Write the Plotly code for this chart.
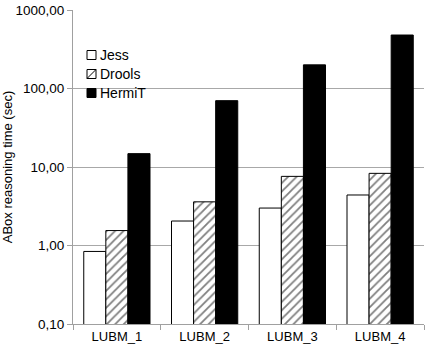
import plotly.graph_objects as go

categories = ["LUBM_1", "LUBM_2", "LUBM_3", "LUBM_4"]
jess = [0.84, 2.05, 3.0, 4.4]
drools = [1.55, 3.6, 7.6, 8.3]
hermit = [14.8, 70, 200, 480]
series_names = ["Jess", "Drools", "HermiT"]
tick_vals = [0.1, 1, 10, 100, 1000]
tick_text = ["0,10", "1,00", "10,00", "100,00", "1000,00"]

fig = go.Figure()
fig.add_bar(name=series_names[0], x=categories, y=jess,
            marker=dict(color="white", line=dict(color="black", width=1)))
fig.add_bar(name=series_names[1], x=categories, y=drools,
            marker=dict(color="white", line=dict(color="black", width=1),
                        pattern=dict(shape="/", fgcolor="black", bgcolor="white", size=6, solidity=0.3)))
fig.add_bar(name=series_names[2], x=categories, y=hermit,
            marker=dict(color="black", line=dict(color="black", width=1)))

# custom compact legend (Excel style) in pixel-ish paper coords
W, H = 429, 356
L, R, T, B = 73, 5, 10, 32
pw, ph = W - L - R, H - T - B

def px(x):
    return (x - L) / pw

def py(y):
    return (H - B - y) / ph

legend_rows = [55, 74, 93]
for i, (name, yc) in enumerate(zip(series_names, legend_rows)):
    x0, x1 = 87, 96
    y0, y1 = yc - 4.5, yc + 4.5
    fill = "black" if i == 2 else "white"
    fig.add_shape(type="rect", xref="paper", yref="paper",
                  x0=px(x0), x1=px(x1), y0=py(y1), y1=py(y0),
                  fillcolor=fill, line=dict(color="black", width=1))
    if i == 1:
        fig.add_shape(type="line", xref="paper", yref="paper",
                      x0=px(x0), y0=py(y1), x1=px(x1), y1=py(y0),
                      line=dict(color="black", width=1))
    fig.add_annotation(text=name, xref="paper", yref="paper",
                       x=px(98), y=py(yc), xanchor="left", yanchor="middle",
                       showarrow=False, font=dict(size=14))

fig.update_layout(
    width=W, height=H,
    margin=dict(l=L, r=R, t=T, b=B),
    paper_bgcolor="white", plot_bgcolor="white",
    barmode="group", bargap=0.245, bargroupgap=0,
    font=dict(family="Liberation Sans, Arial, sans-serif", size=13, color="black"),
    showlegend=False,
    xaxis=dict(showline=True, linecolor="#a0a0a0", ticks="outside", tickson="boundaries",
               ticklen=5, tickcolor="#a0a0a0", showgrid=False, tickfont=dict(size=13),
               automargin=False),
    yaxis=dict(type="log", range=[-1, 3], tickvals=tick_vals, ticktext=tick_text,
               showline=True, linecolor="#a0a0a0", showgrid=True, gridcolor="#a8a8a8",
               ticks="outside", ticklen=5, tickcolor="#a0a0a0", zeroline=False,
               tickfont=dict(size=13.5), automargin=False,
               title=dict(text="ABox reasoning time (sec)", font=dict(size=13), standoff=0)),
)

fig.write_html("out.html", config={"displayModeBar": False},
               post_script="document.body.style.margin='0px';")
